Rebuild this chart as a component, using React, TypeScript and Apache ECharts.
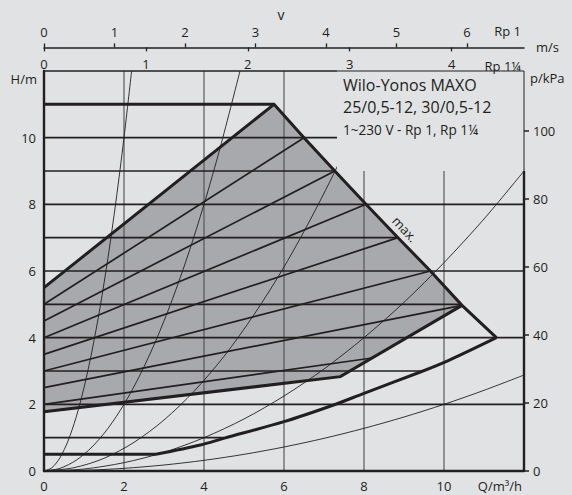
import React, { useEffect, useRef } from "react";
import * as echarts from "echarts";

// ---- Data ----
const qTicks = [0, 2, 4, 6, 8, 10];
const hTicks = [0, 2, 4, 6, 8, 10];
const kpaTicks = [0, 20, 40, 60, 80, 100];
const vRp1Ticks = [0, 1, 2, 3, 4, 5, 6];
const vRp114Ticks = [0, 1, 2, 3, 4];

// Max curve (upper envelope)
const maxCurve = [[0, 11], [5.75, 11], [6.5, 10], [7.27, 9], [8.05, 8], [8.85, 7], [9.66, 6], [10.45, 4.97], [11.31, 4.0]];
// Lower envelope
const minCurveOuter = [[2.8, 0.5], [3.91, 0.78], [4.49, 0.98], [6.0, 1.48], [7.24, 1.98], [8.0, 2.33], [9.41, 2.97], [10.12, 3.32], [11.31, 4.0]];
const minFlat = [[0, 0.5], [2.8, 0.5]];
// Δp-v range polygon
const dpvPolygon = [[0, 1.78], [0, 5.5], [5.75, 11], [6.5, 10], [7.27, 9], [8.05, 8], [8.85, 7], [9.66, 6], [10.45, 4.97], [7.41, 2.83]];
const dpvTopEdge = [[0, 5.5], [5.75, 11]];
const dpvLowerEdge = [[0, 1.78], [7.41, 2.83], [10.45, 4.97]];
// Δp-v speed lines [Q1,H1,Q2,H2]
const dpvLines = [
  [0, 2.0, 8.2, 3.39],
  [0, 2.5, 10.45, 4.97],
  [0, 3.0, 9.66, 6],
  [0, 3.5, 8.85, 7],
  [0, 4.0, 8.05, 8],
  [0, 4.5, 7.27, 9],
  [0, 5.0, 6.5, 10],
];
// System curves
const sysA = [[0, 0], [0.2, 0.1], [0.4, 0.4], [0.6, 0.9], [0.8, 1.6], [1.0, 2.5], [1.2, 3.6], [1.4, 4.9], [1.6, 6.4], [1.8, 8.1], [2.0, 10], [2.19, 12]];
const sysB = [[0, 0], [0.4, 0.08], [0.8, 0.32], [1.2, 0.72], [1.6, 1.28], [2.0, 2.0], [2.4, 2.88], [2.8, 3.92], [3.2, 5.12], [3.6, 6.48], [4.0, 8], [4.4, 9.68], [4.9, 12]];
const sysC = [[0, 0], [0.75, 0.1], [1.5, 0.38], [2.25, 0.86], [3.0, 1.53], [3.75, 2.39], [4.5, 3.44], [5.25, 4.69], [6.0, 6.12], [6.75, 7.75], [7.5, 9.56], [8.4, 12]];
const sysD = [[0, 0], [1, 0.06], [2, 0.25], [3, 0.56], [4, 1], [5, 1.56], [6, 2.25], [7, 3.06], [8, 4], [9, 5.06], [10, 6.25], [11, 7.56], [12, 9]];
const sysE = [[0, 0], [1, 0.02], [2, 0.08], [3, 0.18], [4, 0.32], [5, 0.5], [6, 0.72], [7, 0.98], [8, 1.28], [9, 1.62], [10, 2.0], [11, 2.42], [12, 2.88]];
// Grid lines
const vGridQ = [2, 4, 6, 8, 10];
const evenGridH = [2, 4, 6, 8, 10, 12];
const oddGrid = [[1, 4.5], [3, 9.5], [5, 10.45], [7, 8.85], [9, 7.27]]; // [H, Q end]
// Legend box region [Q1, H1, Q2, H2]
const boxRegion = [7.325, 9, 12, 12];
const rightAxisThick = [[12, 0, 12, 9]];

const INK = "#231f20";
const BG = "#e1e2e4";
const FILL = "#a8a9ad";
const FONT = '"Open Sans", "Noto Sans", sans-serif';
const RP1_MAX = 480 / 70.5;
const RP114_MAX = 480 / 101.9;

function segSeries(data: number[][], color: string, width: number, z: number) {
  return {
    type: "custom",
    coordinateSystem: "cartesian2d",
    xAxisIndex: 0,
    yAxisIndex: 0,
    z,
    silent: true,
    clip: false,
    encode: { x: [0, 2], y: [1, 3] },
    data,
    renderItem: (_p: any, api: any) => {
      const a = api.coord([api.value(0), api.value(1)]);
      const b = api.coord([api.value(2), api.value(3)]);
      return {
        type: "line",
        shape: { x1: a[0], y1: a[1], x2: b[0], y2: b[1] },
        style: { stroke: color, lineWidth: width },
      };
    },
  };
}

function lineSeries(data: number[][], width: number, z: number, smooth: boolean | number = false) {
  return {
    type: "line",
    xAxisIndex: 0,
    yAxisIndex: 0,
    data,
    z,
    silent: true,
    smooth,
    showSymbol: false,
    symbol: "none",
    lineStyle: { color: INK, width, join: "miter" },
  };
}

function txt(text: string, x: number, y: number, size: number, align = "left", rotation = 0) {
  return {
    type: "text",
    x,
    y,
    rotation,
    z: 100,
    style: { text, fill: INK, fontSize: size, fontFamily: FONT, align, verticalAlign: "middle" },
  };
}

export default function App() {
  const ref = useRef<HTMLDivElement>(null);
  useEffect(() => {
    if (!ref.current) return;
    const chart = echarts.init(ref.current, null, { renderer: "svg" });
    const labelStyle = { color: INK, fontSize: 13, fontFamily: FONT };
    const option: any = {
      animation: false,
      backgroundColor: BG,
      textStyle: { fontFamily: FONT },
      grid: { left: 44, right: 48, top: 71, bottom: 24 },
      xAxis: [
        {
          type: "value", min: 0, max: 12, interval: 2, position: "bottom", z: 10,
          axisLine: { show: true, onZero: false, lineStyle: { color: INK, width: 2.4 } },
          axisTick: { show: false }, splitLine: { show: false },
          axisLabel: { ...labelStyle, customValues: qTicks, margin: 8 },
        },
        {
          type: "value", min: 0, max: RP1_MAX, position: "top", offset: 23.6, z: 10,
          axisLine: { show: true, onZero: false, lineStyle: { color: INK, width: 1.5 } },
          axisTick: { show: true, customValues: vRp1Ticks, length: 4, lineStyle: { color: INK, width: 1.3 } },
          axisLabel: { ...labelStyle, customValues: vRp1Ticks, margin: 9 },
          splitLine: { show: false },
        },
        {
          type: "value", min: 0, max: RP114_MAX, position: "top", offset: 23.6, z: 10,
          axisLine: { show: false, onZero: false },
          axisTick: { show: true, inside: true, customValues: vRp114Ticks, length: 4, lineStyle: { color: INK, width: 1.3 } },
          axisLabel: { ...labelStyle, inside: true, customValues: vRp114Ticks, margin: 10 },
          splitLine: { show: false },
        },
      ],
      yAxis: [
        {
          type: "value", min: 0, max: 12, interval: 2, position: "left", z: 10,
          axisLine: { show: true, onZero: false, lineStyle: { color: INK, width: 2.4 } },
          axisTick: { show: false }, splitLine: { show: false },
          axisLabel: { ...labelStyle, customValues: hTicks, margin: 8 },
        },
        {
          type: "value", min: 0, max: 12 * 9.81, position: "right", z: 10,
          axisLine: { show: false, onZero: false },
          axisTick: { show: true, customValues: kpaTicks, length: 5, lineStyle: { color: INK, width: 1.5 } },
          axisLabel: { ...labelStyle, customValues: kpaTicks, margin: 9 },
          splitLine: { show: false },
        },
      ],
      series: [
        {
          type: "custom", coordinateSystem: "cartesian2d", xAxisIndex: 0, yAxisIndex: 0, z: 1, silent: true,
          data: [[0, 0]],
          renderItem: (_p: any, api: any) => ({
            type: "polygon",
            shape: { points: dpvPolygon.map((p) => api.coord(p)) },
            style: { fill: FILL },
          }),
        },
        segSeries(vGridQ.map((q) => [q, 0, q, 12]), "#4d4d4f", 1.1, 2),
        segSeries(
          [...evenGridH.map((h) => [0, h, 12, h]), ...oddGrid.map(([h, q]) => [0, h, q, h])],
          INK, 1.7, 2
        ),
        lineSeries(sysA, 0.9, 3, 0.3),
        lineSeries(sysB, 0.9, 3, 0.3),
        lineSeries(sysC, 0.9, 3, 0.3),
        lineSeries(sysD, 0.9, 3, 0.3),
        lineSeries(sysE, 0.9, 3, 0.3),
        segSeries(dpvLines, INK, 1.7, 3),
        lineSeries(maxCurve, 3, 4),
        lineSeries(minCurveOuter, 3, 4, 0.3),
        lineSeries(minFlat, 3, 4),
        lineSeries(dpvTopEdge, 3, 4),
        lineSeries(dpvLowerEdge, 3, 4),
        {
          type: "custom", coordinateSystem: "cartesian2d", xAxisIndex: 0, yAxisIndex: 0, z: 5, silent: true, clip: false,
          encode: { x: [0, 2], y: [1, 3] },
          data: [boxRegion],
          renderItem: (_p: any, api: any) => {
            const tl = api.coord([api.value(0), api.value(3)]);
            const br = api.coord([api.value(2), api.value(1)]);
            return {
              type: "group",
              children: [
                { type: "rect", shape: { x: tl[0], y: tl[1] - 2, width: br[0] - tl[0], height: br[1] - tl[1] + 2 }, style: { fill: BG } },
                { type: "line", shape: { x1: tl[0], y1: tl[1], x2: br[0], y2: tl[1] }, style: { stroke: INK, lineWidth: 1 } },
                { type: "line", shape: { x1: br[0], y1: tl[1], x2: br[0], y2: br[1] }, style: { stroke: INK, lineWidth: 1 } },
              ],
            };
          },
        },
        segSeries(rightAxisThick, INK, 2.4, 6),
      ],
      graphic: [
        txt("v", 281, 14, 14, "center"),
        txt("Rp 1", 521, 31, 13, "right"),
        txt("m/s", 536, 47, 13, "left"),
        txt("Rp 1¼", 521, 66, 13, "right"),
        txt("H/m", 37, 79, 13, "right"),
        txt("p/kPa", 530, 78, 13, "left"),
        txt("Q/m³/h", 522, 486, 13, "right"),
        txt("Wilo-Yonos MAXO", 343, 85, 16, "left"),
        txt("25/0,5-12, 30/0,5-12", 343, 107, 16, "left"),
        txt("1~230 V - Rp 1, Rp 1¼", 343, 129, 13.6, "left"),
        txt("max.", 405, 229, 13, "center", -0.82),
      ],
    };
    chart.setOption(option);
    return () => chart.dispose();
  }, []);
  return <div ref={ref} style={{ position: "fixed", left: 0, top: 0, width: 572, height: 495 }} />;
}
